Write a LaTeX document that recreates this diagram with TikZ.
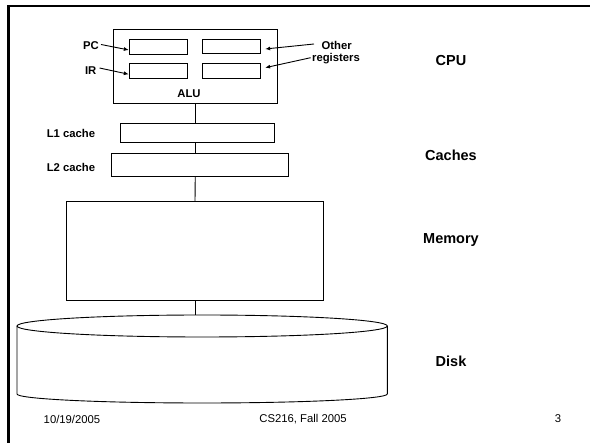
\documentclass[tikz,border=0pt]{standalone}
\usepackage{fontspec}
\setmainfont{Liberation Sans}
\usetikzlibrary{arrows.meta,calc}
\begin{document}
\begin{tikzpicture}[x=1pt,y=-1pt,
  box/.style={draw,line width=0.9pt,inner sep=0pt},
  lbl/.style={font=\fontsize{11.3}{13}\selectfont\bfseries,inner sep=0pt},
  biglbl/.style={font=\fontsize{14.5}{17}\selectfont\bfseries,inner sep=0pt},
  foot/.style={font=\fontsize{11.3}{13}\selectfont,inner sep=0pt},
  conn/.style={line width=0.9pt},
  arr/.style={line width=0.9pt,-{Latex[length=5pt,width=4pt]}}]
\useasboundingbox (0,0) rectangle (590,443);
% frame
\draw[line width=2.3pt] (8.5,443) -- (8.5,6) -- (590,6);
% CPU
\node[box,minimum width=163.5pt,minimum height=74.3pt] (cpu) at (195.25,66.2) {};
\node[box,minimum width=58pt,minimum height=14.8pt] (pc) at (158.3,46.6) {};
\node[box,minimum width=58pt,minimum height=14.8pt] (ir) at (158.3,71.3) {};
\node[box,minimum width=58pt,minimum height=14.8pt] (or1) at (231.7,46.5) {};
\node[box,minimum width=58pt,minimum height=14.8pt] (or2) at (231.7,71.3) {};
\node[lbl] (alu) at (189,94) {ALU};
\node[lbl] (pcl) at (91,45.5) {PC};
\node[lbl] (irl) at (90.7,71) {IR};
\node[lbl] (oth) at (336.7,45) {Other};
\node[lbl] (regs) at (336,59) {registers};
\coordinate (os1) at (314,44);
\coordinate (os2) at (310.7,57.7);
\draw[arr] ($(pcl.east)+(2,-1)$) -- ($(pc.west)+(0,3.4)$);
\draw[arr] ($(irl.east)+(3,-3)$) -- ($(ir.west)+(0,3)$);
\draw[arr] (os1) -- ($(or1.east)+(4,2.5)$);
\draw[arr] (os2) -- ($(or2.east)+(4,-3.6)$);
% caches
\node[box,minimum width=153.2pt,minimum height=19.5pt] (l1) at (197.4,133) {};
\node[box,minimum width=177.8pt,minimum height=23.8pt] (l2) at (199.9,164.9) {};
\node[lbl] (l1l) at (71,133) {L1 cache};
\node[lbl] (l2l) at (71,167.7) {L2 cache};
% memory
\node[box,minimum width=256.5pt,minimum height=99pt] (mem) at (195,251.2) {};
% disk
\draw[line width=0.9pt,fill=white] (17,326) -- (17,394) arc[start angle=180,end angle=360,x radius=185.15pt,y radius=9pt] -- (387.3,326);
\draw[line width=0.9pt] (202.15,326) ellipse[x radius=185.15pt,y radius=11pt];
\coordinate (disktop) at (195,315.1);
% connectors
\draw[conn] (cpu.south) -- (cpu.south |- l1.north);
\draw[conn] (cpu.south |- l1.south) -- (cpu.south |- l2.north);
\draw[conn] (cpu.south |- l2.south) -- (mem.north);
\draw[conn] (mem.south) -- (disktop);
% right labels
\node[biglbl] (cpul) at (451,61) {CPU};
\node[biglbl] (cachl) at (451,155) {Caches};
\node[biglbl] (meml) at (451,240) {Memory};
\node[biglbl] (diskl) at (451,361.7) {Disk};
% footer
\node[foot] (date) at (72,419) {10/19/2005};
\node[foot] (course) at (303,419) {CS216, Fall 2005};
\node[foot] (page) at (558,419) {3};
\end{tikzpicture}
\end{document}
